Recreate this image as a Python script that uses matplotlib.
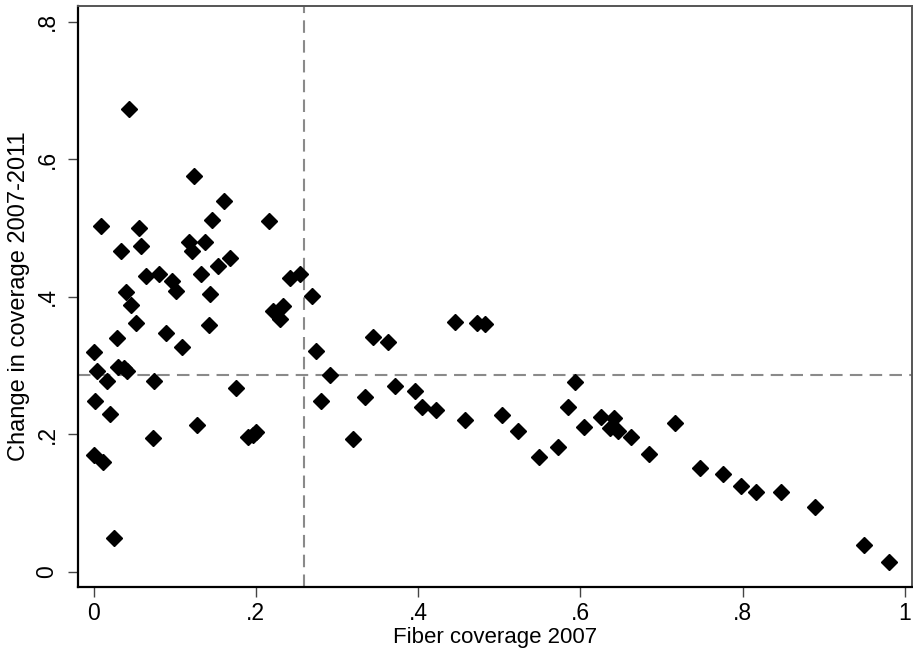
import numpy as np
import matplotlib
matplotlib.use("Agg")
import matplotlib.pyplot as plt

plt.rcParams['font.family'] = ['Liberation Sans', 'DejaVu Sans']

# fiber coverage 2007 (x) and change in coverage 2007-2011 (y)
fiber07 = [0.044, 0.124, 0.009, 0.216, 0.161, 0.146, 0.056, 0.058, 0.034, 0.117,
           0.121, 0.137, 0.168, 0.153, 0.132, 0.064, 0.081, 0.097, 0.101, 0.040,
           0.144, 0.242, 0.255, 0.233, 0.221, 0.230, 0.269, 0.046, 0.052, 0.142,
           0.089, 0.109, 0.029, 0.000, 0.274, 0.030, 0.041, 0.004, 0.016, 0.074,
           0.175, 0.002, 0.020, 0.073, 0.127, 0.190, 0.196, 0.200, 0.000, 0.012,
           0.025, 0.038,
           0.280, 0.292, 0.320, 0.334, 0.344, 0.363, 0.372, 0.396, 0.405, 0.422,
           0.446, 0.473, 0.483, 0.458, 0.504, 0.523, 0.549, 0.573, 0.585, 0.594,
           0.605, 0.625, 0.641, 0.636, 0.647, 0.663, 0.685, 0.717, 0.747, 0.776,
           0.798, 0.817, 0.848, 0.889, 0.950, 0.980]
change = [0.673, 0.576, 0.503, 0.510, 0.540, 0.512, 0.500, 0.474, 0.466, 0.479,
          0.466, 0.479, 0.456, 0.445, 0.433, 0.430, 0.433, 0.423, 0.408, 0.407,
          0.404, 0.428, 0.433, 0.386, 0.379, 0.367, 0.401, 0.388, 0.362, 0.359,
          0.347, 0.327, 0.340, 0.320, 0.321, 0.298, 0.292, 0.292, 0.277, 0.277,
          0.267, 0.248, 0.229, 0.194, 0.213, 0.196, 0.199, 0.203, 0.170, 0.159,
          0.049, 0.296,
          0.248, 0.286, 0.193, 0.254, 0.341, 0.334, 0.270, 0.263, 0.239, 0.235,
          0.363, 0.362, 0.360, 0.221, 0.228, 0.205, 0.167, 0.181, 0.239, 0.276,
          0.210, 0.225, 0.223, 0.209, 0.205, 0.196, 0.171, 0.216, 0.151, 0.142,
          0.125, 0.116, 0.116, 0.094, 0.039, 0.014]

mean_x = 0.259
mean_y = 0.286

xticks = [0, 0.2, 0.4, 0.6, 0.8, 1.0]
xlabels = ['0', '.2', '.4', '.6', '.8', '1']
yticks = [0, 0.2, 0.4, 0.6, 0.8]
ylabels = ['0', '.2', '.4', '.6', '.8']

fig = plt.figure(figsize=(9.13, 6.55), dpi=100)
ax = fig.add_axes([0.0854, 0.1038, 0.9136, 0.887])

ax.plot(fiber07, change, linestyle='none', marker='D', markersize=8,
        color='black', zorder=3)
ax.axvline(mean_x, color='#8a8a8a', linestyle=(0, (6, 3.5)), linewidth=1.5, zorder=2)
ax.axhline(mean_y, color='#8a8a8a', linestyle=(0, (6, 3.5)), linewidth=1.5, zorder=2)

ax.set_xlim(-0.0193, 1.009)
ax.set_ylim(-0.0223, 0.823)
ax.set_xticks(xticks)
ax.set_xticklabels(xlabels)
ax.set_yticks(yticks)
ax.set_yticklabels(ylabels, rotation=90, va='center')

ax.tick_params(axis='both', direction='out', length=7, width=1, color='#444444',
               labelsize=16.5)
ax.tick_params(axis='y', pad=7)
ax.tick_params(axis='x', pad=4)

for s in ['left', 'bottom']:
    ax.spines[s].set_linewidth(1.6)
    ax.spines[s].set_color('black')
for s in ['top', 'right']:
    ax.spines[s].set_linewidth(1.4)
    ax.spines[s].set_color('#555555')

ax.set_xlabel('Fiber coverage 2007', fontsize=16, labelpad=1)
ax.set_ylabel('Change in coverage 2007-2011', fontsize=17, labelpad=4)

fig.savefig('out.png', dpi=100)
